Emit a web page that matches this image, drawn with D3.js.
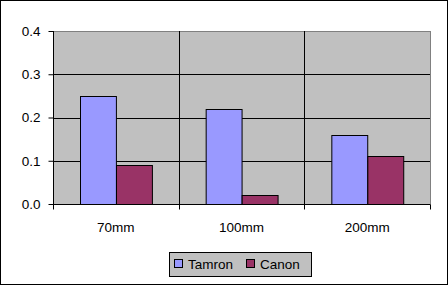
<!DOCTYPE html>
<html>
<head>
<meta charset="utf-8">
<script src="https://cdn.jsdelivr.net/npm/d3@7"></script>
<style>
  body { margin: 0; background: #fff; }
  text { font-family: "Liberation Sans", Arial, sans-serif; font-size: 13.5px; fill: #000; }
</style>
</head>
<body>
<div id="chart"></div>
<script>
// data
const categories = ["70mm", "100mm", "200mm"];
const seriesNames = ["Tamron", "Canon"];
const tamron = [0.25, 0.22, 0.16];
const canon = [0.09, 0.02, 0.11];
const yTicks = [0, 0.1, 0.2, 0.3, 0.4];
const colors = ["#9999ff", "#993366"];

const svgWidth = 448, svgHeight = 287;
const margin = { top: 31, right: 18, bottom: 83, left: 53 };
const width = svgWidth - margin.left - margin.right;
const height = svgHeight - margin.top - margin.bottom;

const svg = d3.select("#chart").append("svg")
    .attr("width", svgWidth)
    .attr("height", svgHeight);

// outer chart border
svg.append("rect")
    .attr("x", 0.5).attr("y", 0.5)
    .attr("width", svgWidth - 1).attr("height", svgHeight - 3)
    .attr("fill", "#fff").attr("stroke", "#000");

const g = svg.append("g").attr("transform", `translate(${margin.left},${margin.top})`);

const x0 = d3.scaleBand().domain(categories).range([0, width]);
const x1 = d3.scaleBand().domain(seriesNames)
    .range([0, x0.bandwidth()]).paddingOuter(0.75);
const y = d3.scaleLinear().domain([0, 0.4]).range([height, 0]);

// plot area
g.append("rect")
    .attr("x", 0.5).attr("y", 0.5)
    .attr("width", width).attr("height", height)
    .attr("fill", "#c0c0c0").attr("stroke", "#808080");

// horizontal gridlines
g.selectAll("line.grid").data(yTicks.slice(1, -1)).enter().append("line")
    .attr("x1", 0).attr("x2", width)
    .attr("y1", d => Math.round(y(d)) + 0.5).attr("y2", d => Math.round(y(d)) + 0.5)
    .attr("stroke", "#000");

// vertical category dividers
g.selectAll("line.vdiv").data(categories.slice(1)).enter().append("line")
    .attr("x1", d => Math.round(x0(d)) + 0.5).attr("x2", d => Math.round(x0(d)) + 0.5)
    .attr("y1", 0).attr("y2", height)
    .attr("stroke", "#000");

// bars
const rows = categories.map((c, i) => ({ cat: c, vals: [tamron[i], canon[i]] }));
const groups = g.selectAll("g.cat").data(rows).enter().append("g")
    .attr("transform", d => `translate(${x0(d.cat)},0)`);
groups.selectAll("rect").data(d => d.vals.map((v, j) => ({ name: seriesNames[j], v, j })))
    .enter().append("rect")
    .attr("x", d => Math.round(x1(d.name)) + 0.5)
    .attr("width", x1.bandwidth())
    .attr("y", d => Math.round(y(d.v)) + 0.5)
    .attr("height", d => height - Math.round(y(d.v)))
    .attr("fill", d => colors[d.j])
    .attr("stroke", "#000");

// y axis
const yAxis = d3.axisLeft(y).tickValues(yTicks).tickFormat(d3.format(".1f")).tickSize(5).tickPadding(8);
const ya = g.append("g").attr("transform", "translate(0.5,0)").call(yAxis);
ya.select(".domain").attr("stroke", "#000").attr("d", `M0,0V${height}`);
ya.selectAll(".tick text").style("font-size", "13.5px").style("font-family", "'Liberation Sans', Arial, sans-serif");

// x axis
const xa = g.append("g").attr("transform", `translate(0,${height + 0.5})`);
xa.append("line").attr("x1", 0).attr("x2", width).attr("stroke", "#000");
const xb = d3.range(categories.length + 1).map(i => i * x0.step());
xa.selectAll("line.tk").data(xb).enter().append("line")
    .attr("x1", d => Math.round(d) + 0.5).attr("x2", d => Math.round(d) + 0.5)
    .attr("y1", 0).attr("y2", 5).attr("stroke", "#000");
xa.selectAll("text").data(categories).enter().append("text")
    .attr("x", d => x0(d) + x0.bandwidth() / 2)
    .attr("y", 27)
    .attr("text-anchor", "middle")
    .text(d => d);

// legend
const lg = svg.append("g").attr("transform", "translate(169,252)");
lg.append("rect").attr("x", 0.5).attr("y", 0.5).attr("width", 142).attr("height", 24)
    .attr("fill", "#c0c0c0").attr("stroke", "#000");
const legX = [5, 77];
seriesNames.forEach((n, i) => {
    lg.append("rect").attr("x", legX[i] + 0.5).attr("y", 7.5).attr("width", 8).attr("height", 8)
        .attr("fill", colors[i]).attr("stroke", "#000");
    lg.append("text").attr("x", legX[i] + 14).attr("y", 16.5).text(n);
});
</script>
</body>
</html>
